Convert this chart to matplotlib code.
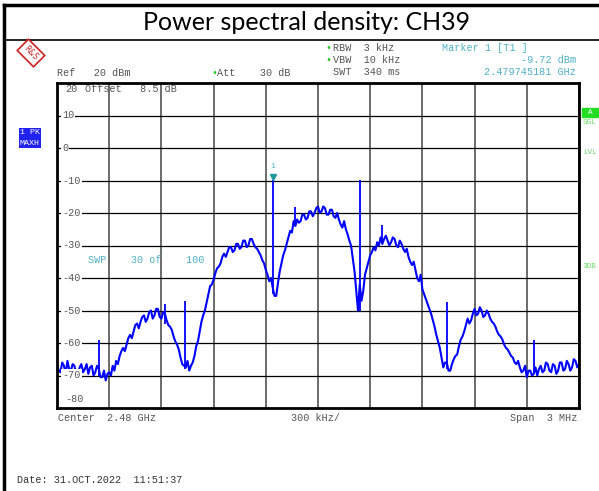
import numpy as np
import matplotlib
matplotlib.use("Agg")
import matplotlib.pyplot as plt

# Trace (dBm), 301 points across the 3 MHz span
f_start, f_stop = 2478.5, 2481.5  # MHz
level = [
    -66.5, -68.5, -69.0, -66.0, -67.0, -69.5, -65.5, -68.0, -68.5, -66.5,
    -67.0, -69.5, -70.0, -67.5, -66.5, -69.0, -68.0, -66.5, -69.5, -67.5,
    -67.0, -70.0, -69.0, -67.0, -68.0, -70.5, -70.5, -68.5, -71.5, -69.5,
    -69.0, -70.0, -67.0, -68.5, -65.5, -66.5, -64.0, -62.5, -61.5, -62.5,
    -60.5, -58.5, -57.5, -58.5, -56.5, -54.5, -54.0, -55.5, -53.5, -52.0,
    -51.5, -53.5, -52.5, -50.5, -50.0, -52.5, -51.5, -49.5, -49.5, -52.0,
    -52.5, -50.5, -51.0, -53.0, -54.5, -55.0, -56.0, -58.0, -59.5, -60.5,
    -62.0, -64.5, -66.5, -67.0, -67.5, -65.5, -68.5, -67.0, -66.0, -64.0,
    -61.0, -59.5, -56.5, -53.5, -51.5, -50.0, -47.5, -45.0, -42.5, -42.0,
    -40.5, -38.5, -37.0, -36.5, -35.5, -33.5, -32.5, -33.5, -32.0, -30.5,
    -30.5, -32.0, -31.5, -29.5, -29.5, -31.0, -30.5, -28.5, -28.5, -30.5,
    -30.0, -28.0, -28.0, -29.5, -30.5, -31.0, -32.0, -33.0, -34.5, -35.5,
    -37.5, -39.0, -41.0, -40.0, -43.0, -45.5, -45.5, -41.5, -38.0, -35.5,
    -33.0, -31.5, -29.5, -27.5, -25.5, -26.0, -22.5, -24.0, -22.0, -23.0,
    -22.5, -20.5, -20.5, -22.0, -21.5, -19.5, -19.5, -21.0, -20.0, -18.5,
    -18.0, -20.0, -19.5, -18.0, -18.5, -20.5, -20.5, -19.0, -19.0, -21.0,
    -21.5, -20.0, -22.0, -23.5, -24.5, -22.5, -25.0, -26.5, -28.5, -30.0,
    -34.0, -38.0, -44.0, -50.0, -42.0, -47.0, -44.0, -39.0, -37.0, -35.0,
    -33.0, -32.0, -30.5, -31.5, -29.0, -30.0, -27.5, -29.5, -28.0, -27.0,
    -28.5, -30.0, -29.0, -27.5, -28.0, -30.0, -30.5, -28.5, -29.5, -31.0,
    -32.0, -31.0, -33.5, -35.0, -36.0, -35.0, -37.5, -40.0, -41.0, -39.0,
    -43.5, -45.0, -46.5, -48.0, -49.5, -51.0, -53.0, -55.0, -57.5, -59.5,
    -61.5, -64.5, -67.5, -66.0, -66.0, -68.5, -68.5, -66.5, -65.0, -64.0,
    -63.5, -61.0, -59.0, -58.0, -56.5, -54.5, -52.5, -54.0, -53.0, -51.0,
    -49.5, -51.5, -51.0, -49.0, -50.0, -52.0, -51.5, -50.0, -51.0, -52.5,
    -53.5, -54.0, -55.0, -56.5, -57.5, -58.0, -59.0, -60.5, -61.5, -62.0,
    -63.0, -64.0, -64.5, -66.0, -66.5, -65.5, -67.5, -69.0, -68.5, -67.0,
    -70.5, -68.5, -68.5, -70.0, -69.5, -67.5, -70.0, -68.0, -67.0, -69.0,
    -68.5, -66.0, -66.5, -68.5, -69.0, -66.5, -67.0, -69.5, -68.5, -66.0,
    -66.0, -68.5, -68.0, -65.5, -66.5, -68.5, -67.5, -65.0, -65.5, -67.5,
    -66.5,
]

# narrow spikes on the trace: frequency (MHz), top, bottom (dBm)
spike_f = [2478.741, 2479.121, 2479.236, 2479.743, 2479.868, 2480.241, 2480.368, 2480.741, 2481.241]
spike_top = [-59.0, -48.0, -47.0, -9.72, -18.0, -9.8, -23.7, -47.4, -59.0]
spike_bot = [-70.0, -54.0, -68.0, -45.0, -23.0, -50.0, -29.0, -68.0, -69.0]

marker_f, marker_lvl = 2479.743, -9.72
y_ticks = [10, 0, -10, -20, -30, -40, -50, -60, -70]

W, H = 599, 491
fig = plt.figure(figsize=(W / 100, H / 100), dpi=100)
fig.patch.set_facecolor("white")


def px(x, y):
    return x / W, 1 - y / H


mono = "Liberation Mono"
fs = 7.3
grey = "#555555"
cyan = "#4fb0c6"

# frame lines of the report
fig.add_artist(plt.Line2D([4 / W, 4 / W], [0, 1 - 5 / H], color="black", lw=2.5, transform=fig.transFigure))
fig.add_artist(plt.Line2D([4 / W, 1], [1 - 5 / H, 1 - 5 / H], color="black", lw=2.5, transform=fig.transFigure))
fig.add_artist(plt.Line2D([4 / W, 1], [1 - 40 / H, 1 - 40 / H], color="black", lw=1.2, transform=fig.transFigure))
fig.text(*px(307, 22), "Power spectral density: CH39", ha="center", va="center",
         fontsize=18, family="Lato")

# R&S logo
fig.text(*px(31, 53), "R&S", ha="center", va="center", fontsize=5.5, color="#cc2222",
         rotation=-45, family="DejaVu Sans",
         bbox=dict(boxstyle="square,pad=0.45", fc="white", ec="#cc2222", lw=1.2))

ax = fig.add_axes([57 / W, 83 / H, 522 / W, 325 / H])
ax.plot(np.linspace(f_start, f_stop, len(level)), level, color="#0000ff", lw=1.5)
ax.vlines(spike_f, spike_bot, spike_top, color="#0000ff", lw=1.3)
ax.plot([marker_f], [marker_lvl + 0.8], marker="v", color="#1f9a9a", ms=5)
ax.text(marker_f, marker_lvl + 3, "1", ha="center", va="bottom", fontsize=6,
        color=cyan, family=mono)

ax.set_xlim(f_start, f_stop)
ax.set_ylim(-80, 20)
ax.set_xticks(np.linspace(f_start, f_stop, 11))
ax.set_yticks(np.arange(-80, 21, 10))
ax.grid(True, axis="y", color="black", lw=0.9)
ax.grid(True, axis="x", color="#444444", lw=1.1)
ax.tick_params(length=0, labelleft=False, labelbottom=False)
for s in ax.spines.values():
    s.set_linewidth(2)

for v in y_ticks:
    ax.text(f_start + 0.03, v, "%d" % v if v >= 0 else "-%d" % -v, ha="left", va="center",
            fontsize=fs, color=grey, family=mono,
            bbox=dict(boxstyle="square,pad=0.1", fc="white", ec="none"))
ax.text(f_start + 0.05, 18, "20", ha="left", va="center", fontsize=fs, color=grey, family=mono)
ax.text(f_start + 0.16, 18, "Offset   8.5 dB", ha="left", va="center", fontsize=fs,
        color=grey, family=mono)
ax.text(f_start + 0.05, -80 + 2.8, "-80", ha="left", va="center", fontsize=fs,
        color=grey, family=mono)
ax.text(f_start + 0.18, -34.5, "SWP    30 of    100", ha="left", va="center", fontsize=fs,
        color=cyan, family=mono)

# instrument header texts
fig.text(*px(57, 73), "Ref   20 dBm", fontsize=fs, color=grey, family=mono, va="center")
fig.text(*px(211, 73), "\u2022", fontsize=fs, color="#22cc22", family=mono, va="center")
fig.text(*px(217, 73), "Att    30 dB", fontsize=fs, color=grey, family=mono, va="center")
for yy, t, dot in [(48, "RBW  3 kHz", True), (60, "VBW  10 kHz", True), (72, "SWT  340 ms", False)]:
    if dot:
        fig.text(*px(325, yy), "\u2022", fontsize=fs, color="#22cc22", family=mono, va="center")
    fig.text(*px(333, yy), t, fontsize=fs, color=grey, family=mono, va="center")
fig.text(*px(442, 48), "Marker 1 [T1 ]", fontsize=fs, color=cyan, family=mono, va="center")
fig.text(*px(576, 60), "-9.72 dBm", fontsize=fs, color=cyan, family=mono, va="center", ha="right")
fig.text(*px(576, 72), "2.479745181 GHz", fontsize=fs, color=cyan, family=mono, va="center", ha="right")

# side labels
fig.text(*px(20, 133), "1 PK", fontsize=6, color="white", family=mono, va="center",
         bbox=dict(boxstyle="square,pad=0.15", fc="#2222ee", ec="none"))
fig.text(*px(20, 143), "MAXH", fontsize=6, color="white", family=mono, va="center",
         bbox=dict(boxstyle="square,pad=0.15", fc="#2222ee", ec="none"))
fig.add_artist(plt.Rectangle((582 / W, 1 - 117 / H), 17 / W, 9 / H, color="#22dd22",
                             transform=fig.transFigure))
fig.text(*px(590, 112), "A", fontsize=5.5, color="white", family=mono, va="center", ha="center")
for yy, t in [(122, "SGL"), (152, "LVL"), (266, "3DB")]:
    fig.text(*px(583, yy), t, fontsize=5.5, color="#66dd66", family=mono, va="center")

# footer texts
fig.text(*px(58, 418), "Center  2.48 GHz", fontsize=fs, color=grey, family=mono, va="center")
fig.text(*px(291, 418), "300 kHz/", fontsize=fs, color=grey, family=mono, va="center")
fig.text(*px(577, 418), "Span  3 MHz", fontsize=fs, color=grey, family=mono, va="center", ha="right")
fig.text(*px(17, 480), "Date: 31.OCT.2022  11:51:37", fontsize=fs, color="#333333",
         family=mono, va="center")

fig.savefig("out.png", dpi=100)
